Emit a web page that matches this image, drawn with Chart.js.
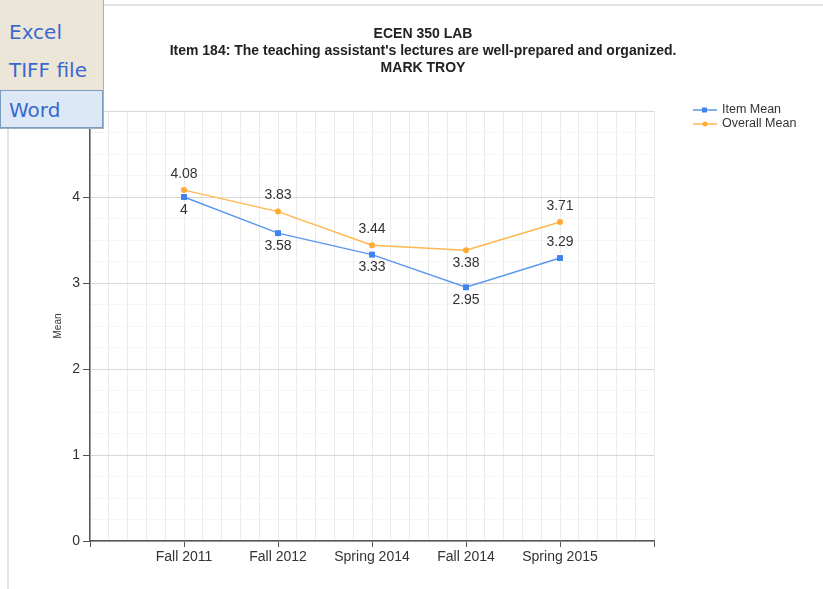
<!DOCTYPE html>
<html>
<head>
<meta charset="utf-8">
<script src="https://cdn.jsdelivr.net/npm/chart.js@4/dist/chart.umd.min.js"></script>
<style>
  html, body { margin: 0; padding: 0; background: #fff; overflow: hidden; }
  body { width: 823px; height: 589px; position: relative; }
  #frame { position: absolute; left: 7px; top: 4px; width: 900px; height: 700px; border: 2px solid #e3e3e3; }
  #chart { position: absolute; left: 0; top: 0; }
  #menu { position: absolute; left: 0; top: -26px; width: 103px; background: #ece6d9;
          border-right: 1px solid #a3b3c4; border-bottom: 1px solid #a3b3c4; font-family: "DejaVu Sans", sans-serif; }
  #menu div { height: 38.6px; line-height: 38.6px; padding-left: 9px; font-size: 20px; color: #3a68cf; box-sizing: border-box; }
  #menu div.sel { background: #dce8f5; border: 1px solid #7d9cbb; padding-left: 8px; }
</style>
</head>
<body>
<div id="frame"></div>
<canvas id="chart" width="846" height="589"></canvas>
<div id="menu">
  <div>PDF</div>
  <div>Excel</div>
  <div>TIFF file</div>
  <div class="sel">Word</div>
</div>
<script>
const categories = ["Fall 2011", "Fall 2012", "Spring 2014", "Fall 2014", "Spring 2015"];
const itemMean = [4, 3.58, 3.33, 2.95, 3.29];
const overallMean = [4.08, 3.83, 3.44, 3.38, 3.71];
const yTicks = [0, 1, 2, 3, 4, 5];

// which side of the point each value label sits on
const itemLabelSide = ["below", "below", "below", "below", "above"];
const overallLabelSide = ["above", "above", "above", "below", "above"];

const blue = "#5a97ee";
const orange = "#ffb74f";

Chart.defaults.font.family = "'Liberation Sans', Arial, sans-serif";
Chart.defaults.color = "#333";

const toPoints = arr => arr.map((v, i) => ({ x: i + 1, y: v }));
const isMajorX = v => Math.round(v * 5) % 5 === 0;

const valueLabels = {
  id: "valueLabels",
  afterDatasetsDraw(chart) {
    const ctx = chart.ctx;
    ctx.save();
    ctx.font = "14px 'Liberation Sans', Arial";
    ctx.fillStyle = "#333";
    ctx.textAlign = "center";
    ctx.textBaseline = "middle";
    chart.data.datasets.forEach((ds, i) => {
      chart.getDatasetMeta(i).data.forEach((pt, j) => {
        const dy = ds.labelSide[j] === "above" ? -16 : 13;
        ctx.fillText(String(ds.data[j].y), pt.x, pt.y + dy);
      });
    });
    ctx.restore();
  }
};

const sideLegend = {
  id: "sideLegend",
  afterDraw(chart) {
    const ctx = chart.ctx;
    ctx.save();
    ctx.font = "12.5px 'Liberation Sans', Arial";
    ctx.textBaseline = "middle";
    chart.data.datasets.forEach((ds, i) => {
      const y = 110 + i * 14;
      ctx.strokeStyle = ds.borderColor;
      ctx.lineWidth = 1.5;
      ctx.beginPath();
      ctx.moveTo(693, y);
      ctx.lineTo(717, y);
      ctx.stroke();
      ctx.fillStyle = ds.pointBackgroundColor;
      if (ds.pointStyle === "rect") ctx.fillRect(702, y - 2.5, 5, 5);
      else { ctx.beginPath(); ctx.arc(705, y, 2.5, 0, Math.PI * 2); ctx.fill(); }
      ctx.fillStyle = "#333";
      ctx.fillText(ds.label, 722, y);
    });
    ctx.restore();
  }
};

new Chart(document.getElementById("chart"), {
  type: "line",
  data: {
    datasets: [
      {
        label: "Item Mean",
        data: toPoints(itemMean),
        labelSide: itemLabelSide,
        borderColor: blue,
        backgroundColor: blue,
        pointBackgroundColor: "#3f84ee",
        pointBorderWidth: 0,
        pointStyle: "rect",
        pointRadius: 4.2,
        borderWidth: 1.5,
        tension: 0
      },
      {
        label: "Overall Mean",
        data: toPoints(overallMean),
        labelSide: overallLabelSide,
        borderColor: orange,
        backgroundColor: orange,
        pointBackgroundColor: "#ffab33",
        pointBorderWidth: 0,
        pointStyle: "circle",
        pointRadius: 3,
        borderWidth: 1.5,
        tension: 0
      }
    ]
  },
  options: {
    responsive: false,
    animation: false,
    layout: { padding: 0 },
    plugins: {
      legend: { display: false },
      tooltip: { enabled: false },
      title: {
        display: true,
        text: "ECEN 350 LAB",
        color: "#222",
        font: { size: 14, weight: "bold", lineHeight: 17 / 14 },
        padding: { top: 25.5, bottom: 0 }
      },
      subtitle: {
        display: true,
        text: ["Item 184: The teaching assistant's lectures are well-prepared and organized.", "MARK TROY"],
        color: "#222",
        font: { size: 14, weight: "bold", lineHeight: 17 / 14 },
        padding: { top: 0, bottom: 34.5 }
      }
    },
    scales: {
      x: {
        type: "linear",
        min: 0,
        max: categories.length + 1,
        afterFit: s => { s.height = 48; },
        ticks: {
          stepSize: 0.2,
          autoSkip: false,
          maxRotation: 0,
          minRotation: 0,
          padding: 2,
          font: { size: 14 },
          callback: v => {
            const k = Math.round(v * 5);
            return k % 5 === 0 ? (categories[k / 5 - 1] || "") : "";
          }
        },
        grid: {
          color: "#ebebeb",
          tickLength: 6,
          tickColor: c => (c.tick && isMajorX(c.tick.value) ? "#555" : "rgba(0,0,0,0)")
        },
        border: { color: "#555", width: 1.5 }
      },
      y: {
        min: yTicks[0],
        max: yTicks[yTicks.length - 1],
        afterFit: s => { s.width = 90; },
        title: { display: true, text: "Mean", font: { size: 10 }, color: "#333", padding: { top: 52, bottom: 0 } },
        ticks: {
          stepSize: 0.25,
          autoSkip: false,
          padding: 3,
          font: { size: 14 },
          callback: v => (yTicks.includes(v) ? v : "")
        },
        grid: {
          color: c => (c.tick && yTicks.includes(c.tick.value) ? "#d8d8d8" : "#ededed"),
          tickLength: 7,
          tickColor: c => (c.tick && yTicks.includes(c.tick.value) ? "#555" : "rgba(0,0,0,0)")
        },
        border: {
          color: "#555",
          width: 1.5,
          dash: c => (c.tick && !yTicks.includes(c.tick.value) ? [2, 2] : [])
        }
      },
      // empty right-hand box that keeps the legend column clear
      legendSpace: {
        type: "linear",
        position: "right",
        afterFit: s => { s.width = 192; },
        ticks: { display: false },
        grid: { display: false },
        border: { display: false }
      }
    }
  },
  plugins: [valueLabels, sideLegend]
});
</script>
</body>
</html>
